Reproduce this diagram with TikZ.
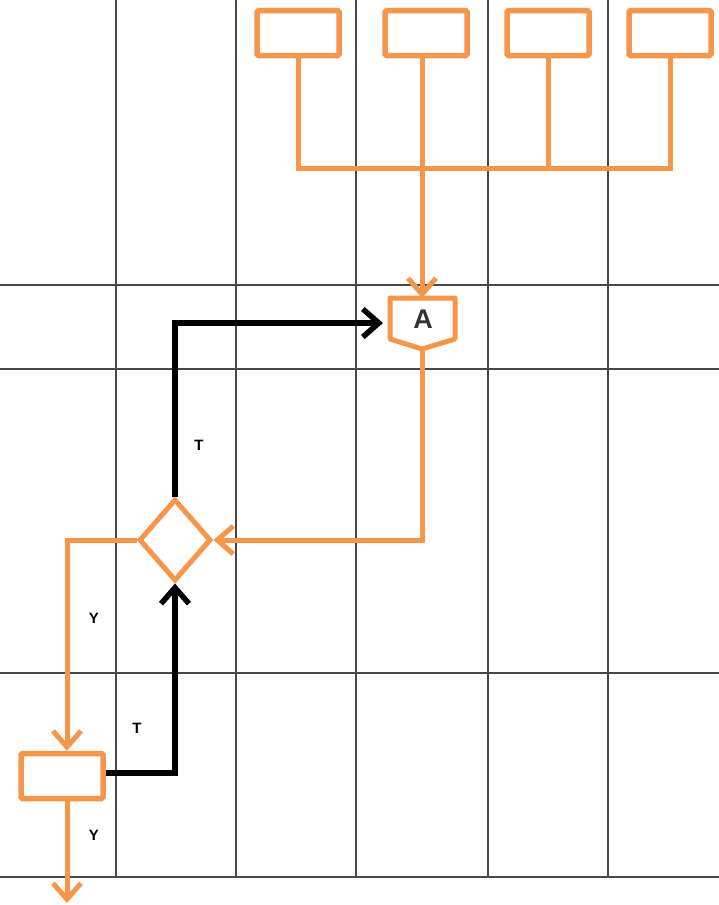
\documentclass[tikz,border=0pt]{standalone}
\usepackage{fontspec}
\setmainfont{Liberation Sans}
\usetikzlibrary{arrows.meta,shapes.geometric}
\definecolor{flow}{RGB}{247,150,72}
\definecolor{gridc}{RGB}{70,70,80}
\tikzset{
  gridline/.style={draw=gridc,line width=1.3pt},
  obox/.style={draw=flow,line width=5.5pt,fill=white,rounded corners=1.5pt,
    minimum width=82pt,minimum height=45pt,inner sep=0pt},
  dec/.style={draw=flow,line width=5pt,fill=white,shape=diamond,
    minimum width=72pt,minimum height=82pt,inner sep=0pt,shape aspect=0.88},
  oline/.style={draw=flow,line width=5pt},
  kline/.style={draw=black,line width=5.5pt},
  tip/.style={-{Straight Barb[length=16pt,width=28pt]}},
  lbl/.style={font=\bfseries\fontsize{15}{17}\selectfont,text=black},
}
\begin{document}
\begin{tikzpicture}[x=1pt,y=-1pt]
\useasboundingbox (0,0) rectangle (719,905);
\fill[white] (0,0) rectangle (719,905);
% swimlane grid
\foreach \gx in {116,236,356,488,608} \draw[gridline] (\gx,0) -- (\gx,877);
\foreach \gy in {285,369,673,877} \draw[gridline] (0,\gy) -- (719,\gy);

% top row of process boxes
\node[obox] (b1) at (298,33) {};
\node[obox] (b2) at (426,33) {};
\node[obox] (b3) at (548,33) {};
\node[obox] (b4) at (670,33) {};
\coordinate (bus) at (0,168);

% off-page connector A
\coordinate (Atop) at (422,298);
\coordinate (Awest) at (383,323);
\coordinate (Abot) at (422,349);
\draw[oline,fill=white,line join=round] (390,298) -- (455,298) -- (455,339) -- (Abot) -- (390,339) -- cycle;
\node[font=\bfseries\fontsize{27}{27}\selectfont,text=black!80] (A) at (423,319) {A};

% decision and bottom process
\node[dec] (d) at (175,540) {};
\node[obox] (box) at (62,776) {};
\coordinate (out) at (67,903);

% connectors
\draw[oline] (b1.south) |- (b4.south |- bus) -- (b4.south);
\draw[oline] (b3.south) -- (b3.south |- bus);
\draw[oline,tip] (b2.south -| Atop) -- (Atop);
\draw[oline,tip] (Abot) |- (d.east);
\draw[kline,tip] (d.north) |- (Awest);
\draw[oline,tip] (d.west) -| (box.north -| out);
\draw[kline,tip] (box.east |- 0,773) -| (d.south);
\draw[oline,tip] (box.south -| out) -- (out);

% branch labels
\node[lbl] (t1) at (199,445) {T};
\node[lbl] (y1) at (94,618) {Y};
\node[lbl] (t2) at (137,728) {T};
\node[lbl] (y2) at (94,835) {Y};
\end{tikzpicture}
\end{document}
